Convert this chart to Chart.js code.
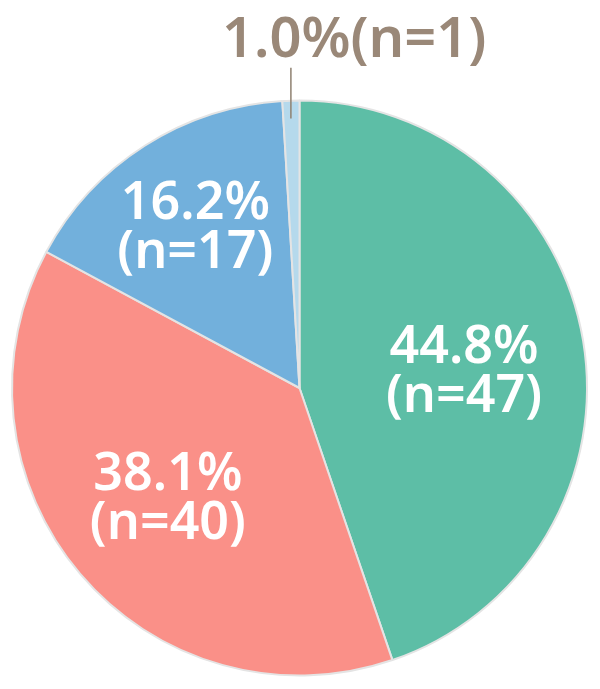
<!DOCTYPE html>
<html><head><meta charset="utf-8">
<script src="https://cdn.jsdelivr.net/npm/chart.js@4/dist/chart.umd.min.js"></script>
<style>html,body{margin:0;padding:0;background:#fff}#wrap{width:600px;height:689px}</style>
</head><body><div id="wrap"><canvas id="c"></canvas></div>
<script>
const categories = ["A", "B", "C", "D"];
const counts = [47, 40, 17, 1];
const percents = ["44.8%", "38.1%", "16.2%", "1.0%"];
const colors = ["#5DBEA6", "#FA9088", "#72B0DC", "#B5D9EC"];

const labelPlugin = {
  id: 'sliceLabels',
  afterDatasetsDraw(chart) {
    const ctx = chart.ctx;
    const meta = chart.getDatasetMeta(0);
    const total = counts.reduce((a, b) => a + b, 0);
    meta.data.forEach((arc, i) => {
      const p = arc.getProps(['x', 'y', 'startAngle', 'endAngle', 'outerRadius']);
      const mid = (p.startAngle + p.endAngle) / 2;
      const R = p.outerRadius;
      ctx.save();
      if (counts[i] / total < 0.05) {
        const lx = p.x + Math.cos(mid) * R;
        const yIn = p.y + Math.sin(mid) * (R - 18);
        ctx.strokeStyle = '#8F8070';
        ctx.lineWidth = 1.5;
        ctx.beginPath();
        ctx.moveTo(lx, yIn);
        ctx.lineTo(lx, p.y + Math.sin(mid) * R - 33);
        ctx.stroke();
        ctx.fillStyle = '#9A8878';
        ctx.font = '600 56px "Noto Sans"';
        ctx.textAlign = 'left';
        ctx.textBaseline = 'alphabetic';
        ctx.fillText(percents[i] + '(n=' + counts[i] + ')', lx - 69, 57);
      } else {
        const frac = [0.58, 0.6, 0.66][i] || 0.6;
        const cx = p.x + Math.cos(mid) * R * frac;
        const cy = p.y + Math.sin(mid) * R * frac + (i === 0 ? 12 : 0);
        ctx.fillStyle = '#ffffff';
        ctx.font = '600 52px "Noto Sans"';
        ctx.textAlign = 'center';
        ctx.textBaseline = 'middle';
        ctx.fillText(percents[i], cx - (i === 2 ? 2 : 0), cy - 24);
        ctx.fillText('(n=' + counts[i] + ')', cx - (i === 2 ? 2 : 0), cy + 25);
      }
      ctx.restore();
    });
  }
};

new Chart(document.getElementById('c'), {
  type: 'pie',
  data: {
    labels: categories,
    datasets: [{
      data: counts,
      backgroundColor: colors,
      borderColor: '#E4E4E4',
      borderWidth: 2,
      hoverOffset: 0
    }]
  },
  options: {
    responsive: true,
    maintainAspectRatio: false,
    animation: false,
    layout: { padding: { top: 99, left: 11, right: 12, bottom: 12 } },
    plugins: { legend: { display: false }, tooltip: { enabled: false } }
  },
  plugins: [labelPlugin]
});
</script>
</body></html>
